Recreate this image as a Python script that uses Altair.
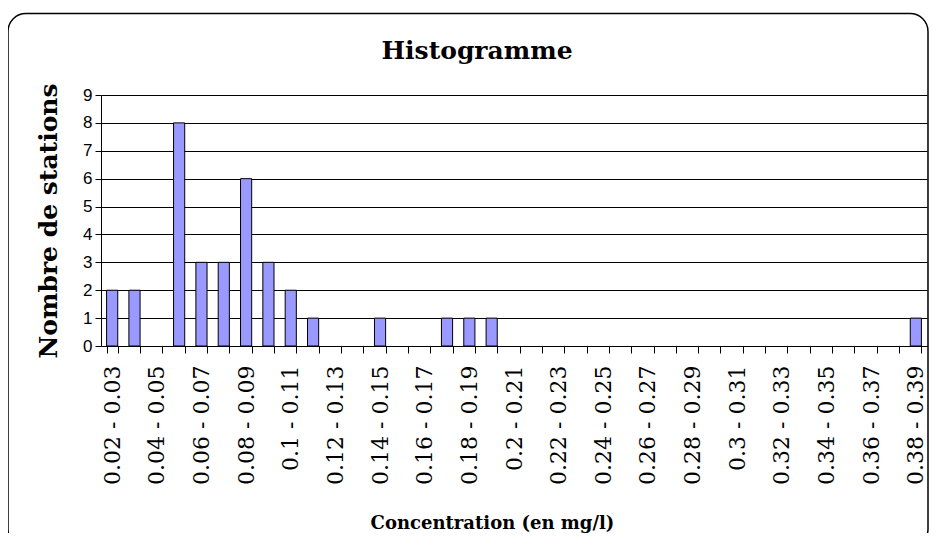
import altair as alt
import pandas as pd

categories = [
    "0.02 - 0.03", "0.03 - 0.04", "0.04 - 0.05", "0.05 - 0.06", "0.06 - 0.07",
    "0.07 - 0.08", "0.08 - 0.09", "0.09 - 0.1", "0.1 - 0.11", "0.11 - 0.12",
    "0.12 - 0.13", "0.13 - 0.14", "0.14 - 0.15", "0.15 - 0.16", "0.16 - 0.17",
    "0.17 - 0.18", "0.18 - 0.19", "0.19 - 0.2", "0.2 - 0.21", "0.21 - 0.22",
    "0.22 - 0.23", "0.23 - 0.24", "0.24 - 0.25", "0.25 - 0.26", "0.26 - 0.27",
    "0.27 - 0.28", "0.28 - 0.29", "0.29 - 0.3", "0.3 - 0.31", "0.31 - 0.32",
    "0.32 - 0.33", "0.33 - 0.34", "0.34 - 0.35", "0.35 - 0.36", "0.36 - 0.37",
    "0.37 - 0.38", "0.38 - 0.39",
]
counts = [2, 2, 0, 8, 3, 3, 6, 3, 2, 1,
          0, 0, 1, 0, 0, 1, 1, 1, 0, 0,
          0, 0, 0, 0, 0, 0, 0, 0, 0, 0,
          0, 0, 0, 0, 0, 0, 1]
shown_labels = categories[::2]
y_ticks = list(range(10))

df = pd.DataFrame({"cat": categories, "n": counts})

label_list = "[" + ",".join("'" + s + "'" for s in shown_labels) + "]"
label_expr = f"indexof({label_list}, datum.value) >= 0 ? datum.label : ''"

bars = alt.Chart(df).transform_filter("datum.n > 0").mark_bar(
    color="#9999FF", stroke="black", strokeWidth=1
).encode(
    x=alt.X("cat:N", sort=categories,
            scale=alt.Scale(domain=categories, paddingInner=0.5, paddingOuter=0.25),
            axis=alt.Axis(
                title="Concentration (en mg/l)",
                labelAngle=-90, labelFont="DejaVu Serif", labelFontSize=22,
                labelColor="black", labelExpr=label_expr, labelOverlap=False,
                labelPadding=12, tickBand="extent", tickSize=7, tickColor="black",
                domainColor="black", grid=False,
                titleFont="DejaVu Serif", titleFontSize=18, titleFontWeight="bold",
                titleColor="black", titlePadding=30, titleX=391)),
    y=alt.Y("n:Q", scale=alt.Scale(domain=[0, 9], nice=False),
            axis=alt.Axis(
                title="Nombre de stations", values=y_ticks, format="d",
                labelFont="Liberation Sans", labelFontSize=17, labelColor="black",
                labelPadding=3, tickSize=6, tickColor="black", domainColor="black",
                gridColor="black", gridWidth=1, gridOpacity=1,
                titleFont="DejaVu Serif", titleFontSize=25, titleFontWeight="bold",
                titleColor="black", titlePadding=21)),
)

frame = alt.Chart(alt.Data(values=[{"a": 1}])).mark_rect(
    fill=None, stroke="black", strokeWidth=1.5, cornerRadius=18
).encode(
    x=alt.value(-93), x2=alt.value(827),
    y=alt.value(-81.5), y2=alt.value(452),
)

chart = alt.layer(frame, bars).properties(
    width=826, height=251,
    autosize=alt.AutoSizeParams(type="none"),
    padding={"left": 93, "top": 87, "right": 2, "bottom": 187},
    title=alt.TitleParams("Histogramme", font="DejaVu Serif", fontSize=25,
                          fontWeight="bold", color="black", anchor="middle",
                          frame="group", baseline="alphabetic",
                          dx=-37, offset=-71),
).configure_view(stroke="#808080", strokeWidth=1).configure(background="white")

chart.save("out.html", embed_options={"renderer": "svg", "actions": False})
